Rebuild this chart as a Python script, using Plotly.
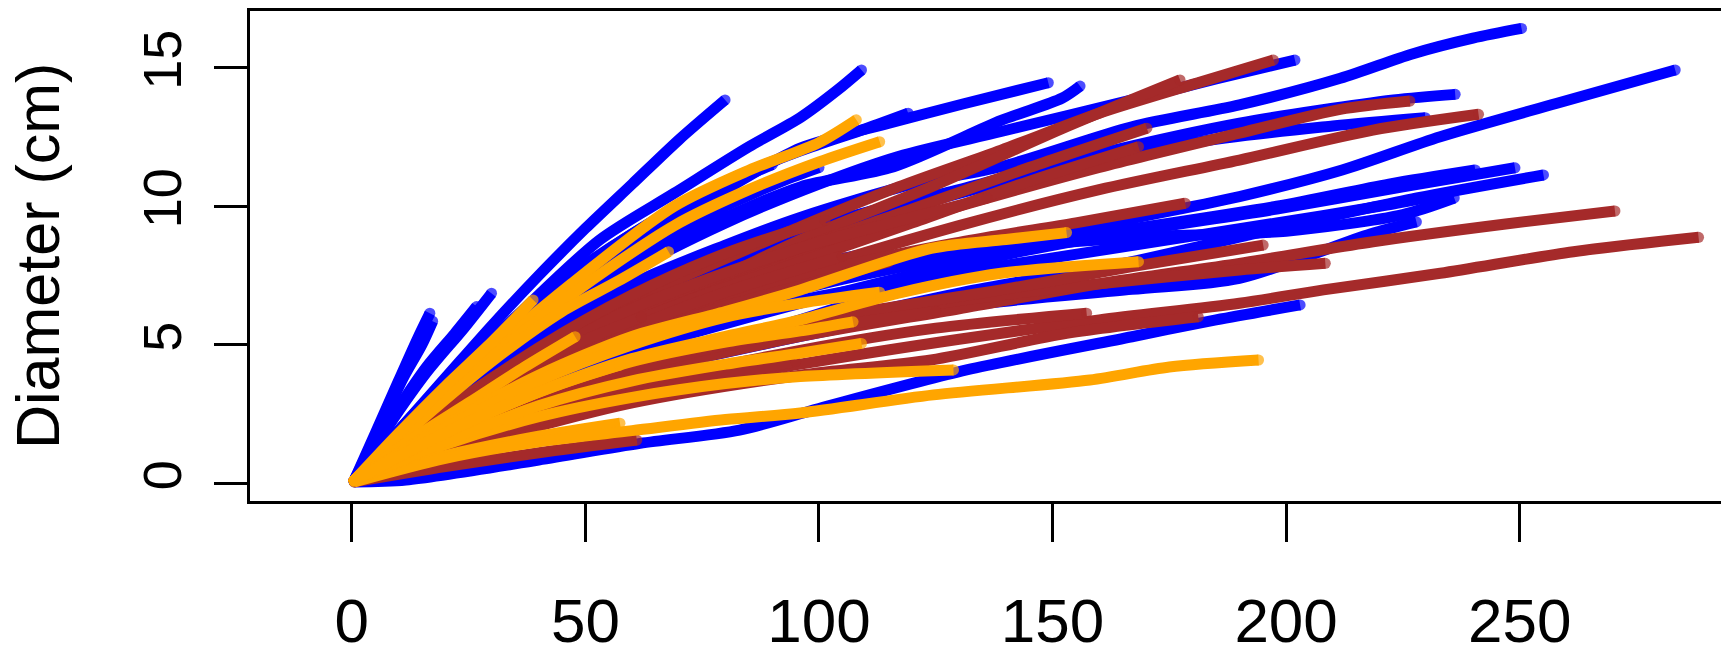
import plotly.graph_objects as go

# ---------------- data ----------------
blue_x = [
    [0.5, 5, 10, 14, 16.7],
    [0.5, 6, 11, 15, 17.3],
    [0.5, 8, 16, 22, 26.7],
    [0.5, 8, 16, 24, 29.9],
    [0.5, 10, 20, 30, 40, 50, 60, 70, 79.9],
    [0.5, 10, 20, 35, 53, 69, 85, 96, 104, 109.1],
    [0.5, 20, 40, 60, 80, 96, 110, 119.1],
    [0.5, 20, 40, 60, 80, 96, 115, 131, 149.1],
    [0.5, 20, 40, 60, 80, 96, 116, 139, 152, 155.9],
    [0.5, 20, 40, 60, 80, 100, 117, 139, 167, 185, 201.9],
    [0.5, 20, 40, 60, 80, 96, 120, 139, 167, 190, 211.6, 227, 240, 250.4],
    [0.5, 20, 40, 70, 100, 130, 160, 190, 223, 236.2],
    [0.5, 30, 60, 100, 140, 180, 210, 229.8],
    [0.5, 20, 50, 96, 124, 153, 190, 212, 233, 258, 283.3],
    [0.5, 20, 50, 96, 130, 160, 198, 225, 249],
    [0.5, 20, 50, 96, 131, 167, 198, 228, 255.1],
    [0.5, 20, 50, 96, 130, 160, 198, 222, 240.5],
    [0.5, 20, 50, 96, 130, 160, 198, 220, 235.1],
    [0.5, 20, 50, 96, 131, 167, 190, 218, 227.9],
    [0.5, 20, 50, 80, 110, 140, 170, 200, 225, 236],
    [0.5, 11.6, 40, 61.7, 83, 100, 131.6, 167, 185, 203],
    [0.5, 20, 40, 60, 80, 100, 120, 140],
    [0.5, 20, 40, 60, 80, 100, 115],
    [0.5, 15, 30, 45, 60, 75, 90],
    [0.5, 15, 30, 45, 60, 75, 92, 100],
]
blue_y = [
    [0.1, 1.8, 3.7, 5.2, 6.14],
    [0.1, 2.0, 3.8, 5.0, 5.85],
    [0.1, 2.2, 4.2, 5.4, 6.38],
    [0.1, 2.1, 4.0, 5.6, 6.86],
    [0.1, 1.9, 3.8, 5.7, 7.5, 9.2, 10.8, 12.4, 13.84],
    [0.1, 1.8, 3.6, 6.0, 8.78, 10.47, 12.15, 13.2, 14.2, 14.92],
    [0.1, 3.4, 6.6, 9.0, 10.9, 12.0, 12.8, 13.36],
    [0.1, 3.3, 6.3, 8.6, 10.6, 12.1, 13.0, 13.7, 14.46],
    [0.1, 3.0, 5.8, 8.0, 9.6, 10.7, 11.43, 13.1, 13.9, 14.34],
    [0.1, 3.0, 5.6, 7.7, 9.4, 10.8, 11.8, 12.7, 13.84, 14.6, 15.28],
    [0.1, 2.8, 5.2, 7.2, 8.6, 9.6, 10.8, 11.43, 12.87, 13.66, 14.62, 15.5, 16.07, 16.42],
    [0.1, 2.8, 5.0, 7.5, 9.3, 10.6, 11.9, 13.0, 13.84, 14.04],
    [0.1, 3.8, 6.5, 9.0, 10.9, 12.3, 12.9, 13.2],
    [0.1, 1.6, 3.6, 5.9, 7.46, 9.03, 10.35, 11.31, 12.51, 13.72, 14.92],
    [0.1, 1.9, 4.2, 6.5, 7.9, 8.9, 9.9, 10.7, 11.39],
    [0.1, 1.8, 3.9, 5.6, 6.9, 8.0, 9.2, 10.3, 11.13],
    [0.1, 2.1, 4.6, 7.0, 8.2, 9.0, 10.0, 10.8, 11.31],
    [0.1, 2.0, 4.4, 6.6, 7.6, 8.4, 9.4, 10.0, 10.47],
    [0.1, 1.7, 3.5, 5.3, 6.4, 7.0, 7.4, 9.0, 9.44],
    [0.1, 2.3, 5.0, 6.9, 7.9, 8.5, 8.9, 9.1, 9.7, 10.3],
    [0.05, 0.12, 0.84, 1.44, 1.92, 2.7, 4.09, 5.29, 5.9, 6.44],
    [0.1, 2.6, 4.8, 6.7, 8.1, 9.3, 10.2, 10.9],
    [0.1, 2.3, 4.2, 5.8, 7.0, 7.9, 8.5],
    [0.1, 2.8, 5.2, 7.3, 9.0, 10.4, 11.5],
    [0.1, 2.5, 4.7, 6.6, 8.2, 9.6, 10.9, 11.4],
]

brown_x = [
    [0.5, 30, 60, 96, 117, 139, 160, 182, 197.3],
    [0.5, 30, 60, 96, 124, 153, 177.3],
    [0.5, 30, 60, 96, 130, 160, 190, 211.6, 226.5],
    [0.5, 30, 60, 96, 130, 160, 190, 218.6, 241.2],
    [0.5, 30, 60, 96, 120, 145, 170.2],
    [0.5, 30, 60, 96, 120, 145, 168.4],
    [0.5, 30, 60, 96, 130, 155, 178.4],
    [0.5, 30, 60, 96, 130, 160, 190, 218.6, 247, 270.4],
    [0.5, 30, 60, 96, 130, 160, 190, 208, 233, 261.5, 288.3],
    [0.5, 30, 60, 96, 130, 160, 190, 208.4],
    [0.5, 30, 60, 96, 139, 167, 195.1],
    [0.5, 30, 60, 96, 124, 153, 181.2],
    [0.5, 30, 60, 96, 125, 157.3],
    [0.5, 20, 40, 60, 80, 101.3],
    [0.5, 10, 20, 30.9],
    [0.5, 20, 40, 61],
    [0.5, 20, 40, 60, 80, 100, 120, 136],
    [0.5, 20, 40, 60, 80, 100, 115],
    [0.5, 20, 40, 60, 80, 100, 125],
    [0.5, 20, 40, 60, 80, 95],
    [0.5, 20, 40, 60, 80, 105],
    [0.5, 15, 30, 45, 62],
]
brown_y = [
    [0.1, 3.8, 6.6, 9.26, 10.7, 12.03, 13.36, 14.5, 15.28],
    [0.1, 3.0, 5.8, 8.78, 10.7, 12.87, 14.56],
    [0.1, 3.2, 6.0, 8.3, 10.0, 11.4, 12.64, 13.5, 13.8],
    [0.1, 3.0, 5.5, 7.6, 9.3, 10.6, 11.67, 12.75, 13.32],
    [0.1, 3.3, 6.2, 8.5, 9.9, 11.4, 12.82],
    [0.1, 3.1, 5.8, 8.0, 9.4, 10.9, 12.15],
    [0.1, 2.8, 5.2, 7.46, 8.7, 9.4, 10.11],
    [0.1, 2.2, 3.9, 5.3, 6.3, 7.2, 7.94, 8.72, 9.36, 9.83],
    [0.1, 1.8, 3.2, 4.3, 5.2, 5.9, 6.5, 6.98, 7.58, 8.36, 8.88],
    [0.1, 2.3, 4.2, 5.7, 6.6, 7.2, 7.7, 7.94],
    [0.1, 2.4, 4.3, 5.8, 6.98, 7.82, 8.6],
    [0.1, 1.6, 2.9, 3.9, 4.45, 5.41, 6.01],
    [0.1, 1.9, 3.5, 4.8, 5.6, 6.14],
    [0.1, 2.6, 4.9, 6.8, 8.3, 9.5],
    [0.1, 1.6, 3.2, 4.75],
    [0.05, 0.6, 1.1, 1.56],
    [0.1, 2.4, 4.5, 6.3, 7.6, 8.7, 9.6, 10.3],
    [0.1, 2.0, 3.8, 5.2, 6.4, 7.3, 8.0],
    [0.1, 1.6, 3.0, 4.1, 5.0, 5.6, 6.2],
    [0.1, 1.2, 2.3, 3.2, 3.9, 4.4],
    [0.1, 2.2, 4.0, 5.6, 6.9, 8.2],
    [0.1, 1.8, 3.4, 4.8, 6.0],
]

orange_x = [
    [0.5, 12, 26, 47, 69, 85, 100, 108],
    [0.5, 12, 26, 47, 69, 85, 100, 113],
    [0.5, 15, 30, 45, 57, 67.8],
    [0.5, 10, 20, 30, 38.8],
    [0.5, 12, 25, 37, 47.8],
    [0.5, 8, 16, 24.6],
    [0.5, 20, 40, 57.4],
    [0.5, 20, 40, 60, 80, 96, 124, 140, 153],
    [0.5, 20, 40, 60, 80, 96, 117, 139, 168.4],
    [0.5, 20, 40, 60, 80, 96, 124.5, 158, 175, 194.1],
    [0.5, 20, 40, 60, 80, 96, 128.8],
    [0.5, 20, 40, 60, 80, 96, 109.1],
    [0.5, 20, 40, 60, 80, 96, 107.3],
    [0.5, 20, 40, 60, 80, 96, 113],
    [0.5, 15, 30, 45, 57.4],
]
orange_y = [
    [0.1, 2.0, 4.2, 7.2, 10.0, 11.3, 12.3, 13.12],
    [0.1, 1.9, 4.0, 6.8, 9.3, 10.6, 11.6, 12.33],
    [0.1, 2.3, 4.4, 6.2, 7.3, 8.36],
    [0.1, 1.8, 3.5, 5.1, 6.62],
    [0.1, 1.5, 2.9, 4.2, 5.29],
    [0.1, 0.8, 1.5, 2.17],
    [0.1, 1.0, 1.7, 2.17],
    [0.1, 2.1, 3.9, 5.3, 6.2, 6.98, 8.48, 8.8, 9.05],
    [0.1, 1.8, 3.3, 4.5, 5.3, 5.9, 6.86, 7.58, 8.0],
    [0.05, 0.9, 1.5, 1.9, 2.3, 2.54, 3.19, 3.73, 4.2, 4.45],
    [0.1, 1.4, 2.4, 3.1, 3.6, 3.85, 4.09],
    [0.1, 1.5, 2.8, 3.7, 4.3, 4.7, 5.05],
    [0.1, 1.8, 3.3, 4.4, 5.1, 5.5, 5.83],
    [0.1, 2.0, 3.7, 5.0, 6.0, 6.5, 6.9],
    [0.1, 1.4, 2.6, 3.6, 4.27],
]

x_ticks = [0, 50, 100, 150, 200, 250]
y_ticks = [0, 5, 10, 15]
y_title = "Diameter (cm)"

# ---------------- figure ----------------
LW = 11
groups = [
    (blue_x, blue_y, "#0000FF"),
    (brown_x, brown_y, "#A52A2A"),
    (orange_x, orange_y, "#FFA500"),
]

fig = go.Figure()
for xs_list, ys_list, col in groups:
    for xs, ys in zip(xs_list, ys_list):
        n = len(xs)
        fig.add_trace(go.Scatter(
            x=xs, y=ys, mode="lines+markers",
            line=dict(color=col, width=LW, shape="spline", smoothing=0.8),
            marker=dict(color=col, size=[LW] + [0] * (n - 2) + [LW], line=dict(width=0)),
            hoverinfo="skip", showlegend=False,
        ))

font_family = "Liberation Sans, Arial, Helvetica, sans-serif"

fig.update_layout(
    width=1721, height=650,
    margin=dict(l=250, r=0, t=11, b=149, autoexpand=False),
    paper_bgcolor="white", plot_bgcolor="white",
    showlegend=False,
    font=dict(family=font_family, color="black"),
)
fig.update_xaxes(
    range=[-21.8, 293.1], tickmode="array", tickvals=x_ticks,
    ticktext=[str(v) for v in x_ticks],
    ticks="outside", ticklen=38, tickwidth=3, tickcolor="black",
    showline=True, linewidth=3, linecolor="black", mirror=True,
    showgrid=False, zeroline=False, automargin=False,
    tickfont=dict(size=62, family=font_family, color="black"),
    ticklabelstandoff=26,
)
fig.update_yaxes(
    range=[-0.64, 17.05], tickmode="array", tickvals=y_ticks,
    ticktext=[str(v) for v in y_ticks],
    ticks="outside", ticklen=33, tickwidth=3, tickcolor="black",
    showline=True, linewidth=3, linecolor="black", mirror=False,
    showgrid=False, zeroline=False, tickangle=-90, automargin=False,
    tickfont=dict(size=54, family=font_family, color="black"),
    ticklabelstandoff=11,
)
fig.add_annotation(
    text=y_title, xref="paper", yref="paper",
    x=(38 - 250) / 1471, y=0.5, xanchor="center", yanchor="middle",
    textangle=-90, showarrow=False,
    font=dict(size=61, family=font_family, color="black"),
)

fig.write_html("out.html")
